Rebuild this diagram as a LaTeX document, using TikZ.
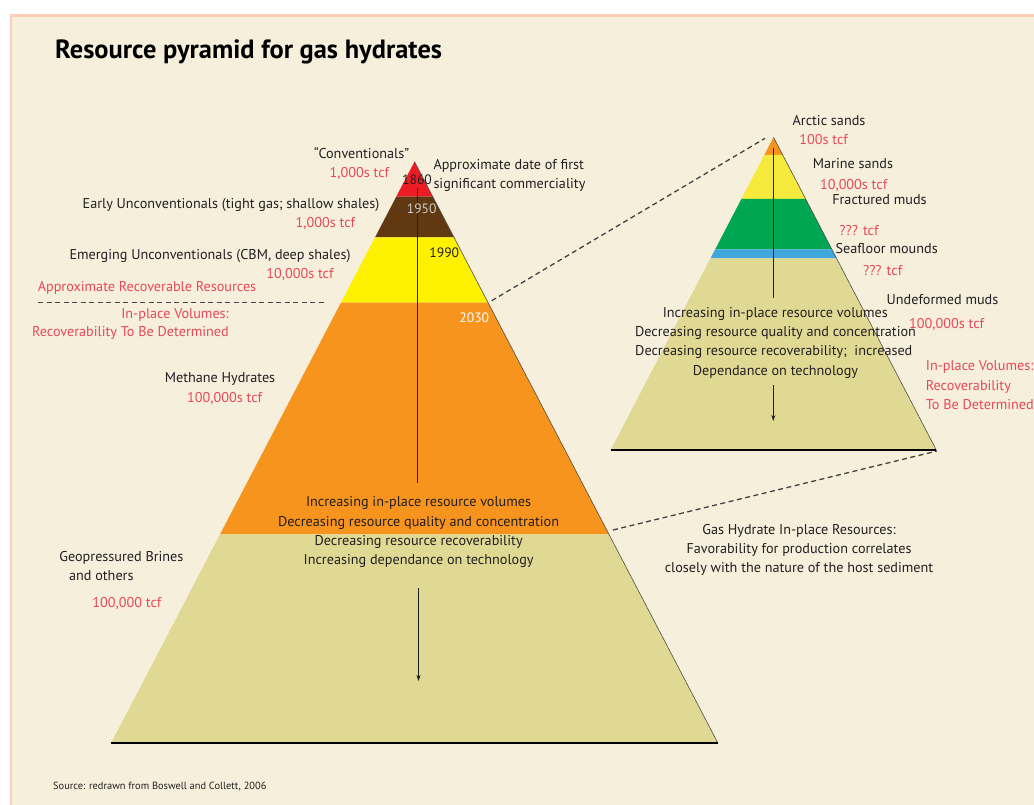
\documentclass[tikz,border=0pt]{standalone}
\usepackage{fontspec}
\setmainfont{PT Sans}
\usepackage{tikz}
\usetikzlibrary{calc,arrows.meta}

\begin{document}
\begin{tikzpicture}[x=1pt,y=-1pt]
	\definecolor{hyBg}{RGB}{245,239,220}
	\definecolor{hyFrame}{RGB}{252,206,186}
	\definecolor{hyText}{RGB}{35,31,32}
	\definecolor{hyRed}{RGB}{232,72,88}
	\definecolor{hyConv}{RGB}{237,28,36}
	\definecolor{hyBrown}{RGB}{96,57,19}
	\definecolor{hyYellow}{RGB}{255,242,0}
	\definecolor{hyOrange}{RGB}{247,148,29}
	\definecolor{hyBeige}{RGB}{224,217,148}
	\definecolor{hyGreen}{RGB}{0,166,81}
	\definecolor{hyBlue}{RGB}{65,166,220}
	\definecolor{hySand}{RGB}{246,234,60}
	\tikzset{
		lbl/.style={font=\fontsize{14.2}{16}\selectfont, text=hyText, inner sep=0pt, anchor=base},
		tcf/.style={lbl, text=hyRed},
		yr/.style={lbl, font=\fontsize{13.6}{16}\selectfont},
		link/.style={draw=hyText!85, line width=1.3pt, dash pattern=on 5pt off 3.5pt},
		flow/.style={draw=hyText, line width=1.6pt},
		flowtip/.style={draw=hyText, line width=0.9pt, -{Stealth[length=6pt,width=4pt]}}
	}
	\useasboundingbox (0,0) rectangle (1034,805);
	\fill[white] (0,0) rectangle (1034,805);
	\fill[hyFrame] (10,14) rectangle (1034,805);
	\fill[hyBg] (12,17) rectangle (1034,805);
	
	\node[anchor=base west, inner sep=0pt, text=black, font=\fontsize{26.4}{30}\selectfont\bfseries] (title) at (55,58.3) {Resource pyramid for gas hydrates};
	
	% main pyramid
	\coordinate (mA) at (414.5,161.7);
	\coordinate (mL) at (111,743.3);
	\coordinate (mR) at (718,743.3);
	\foreach \ta/\tb/\col in {0/0.0602/hyConv, 0.0602/0.1300/hyBrown, 0.1300/0.2424/hyYellow, 0.2424/0.6406/hyOrange, 0.6406/1/hyBeige}
	\fill[\col] ($(mA)!\ta!(mL)$) -- ($(mA)!\tb!(mL)$) -- ($(mA)!\tb!(mR)$) -- ($(mA)!\ta!(mR)$) -- cycle;
	\draw[hyText!80, line width=0.6pt] (mA) -- (mR);
	\draw[black, line width=2pt] (mL) -- (mR);
	
	\coordinate (mT1) at (417.3,188);
	\coordinate (mT2) at (417.3,482.7);
	\coordinate (mT3) at (418.5,588);
	\coordinate (mT4) at (418.5,681);
	\draw[flow] (mT1) -- (mT2);
	\draw[flowtip] (mT3) -- (mT4);
	
	\node[yr] (y1860) at (417,185) {1860};
	\node[yr, text=black!20] (y1950) at (421.7,214) {1950};
	\node[yr] (y1990) at (444.3,257.7) {1990};
	\node[yr, text=white] (y2030) at (474.3,322.7) {2030};
	
	\node[lbl] (conv) at (361.7,158.3) {“Conventionals”};
	\node[tcf] (convTcf) at (359.5,177.3) {1,000s tcf};
	\node[lbl] (early) at (231,209) {Early Unconventionals (tight gas; shallow shales)};
	\node[tcf] (earlyTcf) at (325.5,227.7) {1,000s tcf};
	\node[lbl] (emerg) at (210,260) {Emerging Unconventionals (CBM, deep shales)};
	\node[tcf] (emergTcf) at (300,279) {10,000s tcf};
	\node[tcf] (recov) at (147,291.7) {Approximate Recoverable Resources};
	\coordinate (cutL) at (38,302.7);
	\coordinate (cutR) at (324,302.7);
	\draw[link, line width=1.1pt] (cutL) -- (cutR);
	\node[tcf, anchor=base east] (inpl1) at (229,318) {In-place Volumes:};
	\node[tcf, anchor=base east] (inpl2) at (229,336.7) {Recoverability To Be Determined};
	\node[lbl] (meth) at (220,382.3) {Methane Hydrates};
	\node[tcf] (methTcf) at (224.7,402.3) {100,000s tcf};
	\node[lbl] (geo1) at (121.4,561) {Geopressured Brines};
	\node[lbl] (geo2) at (101.3,580.7) {and others};
	\node[tcf] (geoTcf) at (127,607.3) {100,000 tcf};
	\node[lbl, anchor=base west] (date1) at (433.3,170) {Approximate date of first};
	\node[lbl, anchor=base west] (date2) at (433.3,188.3) {significant commerciality};
	
	\node[lbl] (mTxt1) at (418.6,506.7) {Increasing in-place resource volumes};
	\node[lbl] (mTxt2) at (418.6,526) {Decreasing resource quality and concentration};
	\node[lbl] (mTxt3) at (418.6,545.3) {Decreasing resource recoverability};
	\node[lbl] (mTxt4) at (418.6,564.3) {Increasing dependance on technology};
	
	\node[lbl] (gh1) at (799,534.3) {Gas Hydrate In-place Resources:};
	\node[lbl] (gh2) at (799,553.3) {Favorability for production correlates};
	\node[lbl] (gh3) at (799,572.3) {closely with the nature of the host sediment};
	
	% zoomed pyramid
	\coordinate (sA) at (773.5,137.3);
	\coordinate (sL) at (610.7,450);
	\coordinate (sR) at (936.3,450);
	\coordinate (lkTopA) at (491.7,300.7);
	\coordinate (lkTopB) at (765,138.3);
	\coordinate (lkBotA) at (613,530);
	\coordinate (lkBotB) at (937,451);
	\draw[link] (lkTopA) -- (lkTopB);
	\draw[link] (lkBotA) -- (lkBotB);
	\foreach \ta/\tb/\col in {0/0.0566/hyOrange, 0.0566/0.1973/hySand, 0.1973/0.3582/hyGreen, 0.3582/0.3869/hyBlue, 0.3869/1/hyBeige}
	\fill[\col] ($(sA)!\ta!(sL)$) -- ($(sA)!\tb!(sL)$) -- ($(sA)!\tb!(sR)$) -- ($(sA)!\ta!(sR)$) -- cycle;
	\draw[hyText!80, line width=0.6pt] (sA) -- (sR);
	\draw[black, line width=2pt] (sL) -- (sR);
	
	\coordinate (sT1) at (773.3,148);
	\coordinate (sT2) at (773.3,298.3);
	\coordinate (sT3) at (773.3,385);
	\coordinate (sT4) at (773.3,421);
	\draw[flow] (sT1) -- (sT2);
	\draw[flowtip] (sT3) -- (sT4);
	
	\node[lbl] (arct) at (829,125.7) {Arctic sands};
	\node[tcf] (arctTcf) at (823.7,145) {100s tcf};
	\node[lbl] (mar) at (853,168.3) {Marine sands};
	\node[tcf] (marTcf) at (853.7,190) {10,000s tcf};
	\node[lbl] (frac) at (879.5,205) {Fractured muds};
	\node[tcf] (fracTcf) at (859,236) {??? tcf};
	\node[lbl] (seaf) at (886.7,253.3) {Seafloor mounds};
	\node[tcf] (seafTcf) at (882.7,276) {??? tcf};
	\node[lbl] (undef) at (942.5,305) {Undeformed muds};
	\node[tcf] (undefTcf) at (946.7,328.3) {100,000s tcf};
	\node[tcf, anchor=base west] (sIn1) at (925.7,370.7) {In-place Volumes:};
	\node[tcf, anchor=base west] (sIn2) at (925.7,390) {Recoverability};
	\node[tcf, anchor=base west] (sIn3) at (925.7,409) {To Be Determined};
	
	\node[lbl] (sTxt1) at (775.3,317.7) {Increasing in-place resource volumes};
	\node[lbl] (sTxt2) at (775.5,336.7) {Decreasing resource quality and concentration};
	\node[lbl] (sTxt3) at (773.8,355.7) {Decreasing resource recoverability;~ increased};
	\node[lbl] (sTxt4) at (775.5,375) {Dependance on technology};
	
	\node[lbl, anchor=base west, font=\fontsize{10.4}{12}\selectfont] (src) at (53,789) {Source: redrawn from Boswell and Collett, 2006};
\end{tikzpicture}
\end{document}
